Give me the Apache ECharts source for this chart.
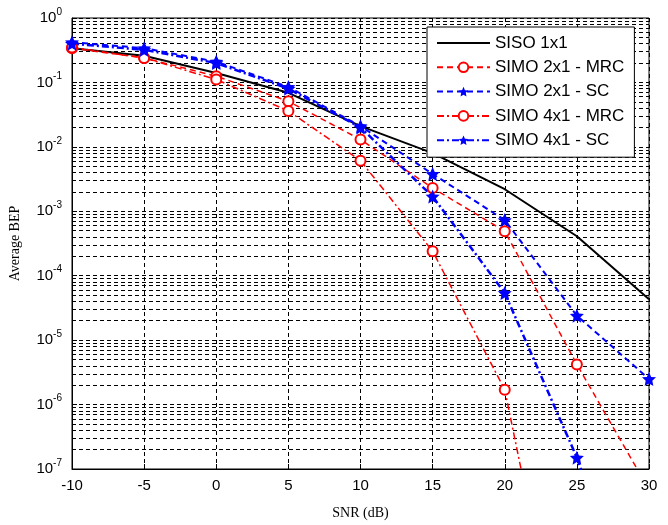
<!DOCTYPE html>
<html>
<head>
<meta charset="utf-8">
<script src="https://cdn.jsdelivr.net/npm/echarts@6/dist/echarts.min.js"></script>
<style>
  html, body { margin: 0; padding: 0; background: #fff; }
  #chart { width: 668px; height: 525px; }
</style>
</head>
<body>
<div id="chart"></div>
<script>
// SNR points (dB)
const snr = [-10, -5, 0, 5, 10, 15, 20, 25, 30]

// average BEP
const siso1x1 = [0.34, 0.26, 0.14, 0.069, 0.021, 8.0e-3, 2.2e-3, 4.1e-4, 4.3e-5]
const simo2x1Mrc = [0.34, 0.24, 0.125, 0.051, 0.013, 2.3e-3, 4.9e-4, 4.2e-6, 4.8e-8]
const simo2x1Sc = [0.42, 0.34, 0.21, 0.085, 0.021, 3.8e-3, 7.3e-4, 2.4e-5, 2.5e-6]
const simo4x1Mrc = [0.35, 0.24, 0.111, 0.036, 6.1e-3, 2.4e-4, 1.7e-6, 6e-12, 1e-15]
const simo4x1Sc = [0.40, 0.32, 0.20, 0.080, 0.020, 1.7e-3, 5.4e-5, 1.5e-7, 1e-10]

const seriesNames = ['SISO 1x1', 'SIMO 2x1 - MRC', 'SIMO 2x1 - SC', 'SIMO 4x1 - MRC', 'SIMO 4x1 - SC']

// minor log gridlines 2..9 x 10^k
const minorGrid = []
for (let k = -7; k < 0; k++) {
  for (let m = 2; m <= 9; m++) minorGrid.push({ yAxis: m * Math.pow(10, k) })
}

const pairs = arr => snr.map((x, i) => [x, arr[i]])

const star = 'path://M0,-10L2.9,-3.6L9.5,-3.1L4.5,1.4L5.9,8.1L0,4.8L-5.9,8.1L-4.5,1.4L-9.5,-3.1L-2.9,-3.6Z'
const dashed = [6, 4]
const dashDot = [7, 3, 2, 3]
const gridDash = [4, 3]

const chart = echarts.init(document.getElementById('chart'))

const option = {
  animation: false,
  grid: {
    left: 72, right: 19, top: 18, bottom: 53,
    show: true, borderColor: '#000', borderWidth: 1
  },
  legend: {
    orient: 'vertical',
    left: 427, top: 27,
    z: 10,
    padding: [6, 10, 7, 9],
    itemGap: 4.3,
    itemWidth: 53, itemHeight: 12,
    backgroundColor: '#fff',
    borderColor: '#000', borderWidth: 1,
    data: [
      { name: seriesNames[0], itemStyle: { opacity: 0 } },
      seriesNames[1], seriesNames[2], seriesNames[3], seriesNames[4]
    ],
    textStyle: { fontFamily: 'Liberation Sans', fontSize: 17, color: '#000', lineHeight: 20 }
  },
  xAxis: [{
    type: 'value',
    min: -10, max: 30, interval: 5,
    name: 'SNR (dB)',
    nameLocation: 'middle', nameGap: 37,
    nameTextStyle: { fontFamily: 'Liberation Serif', fontSize: 14, color: '#000' },
    axisLine: { onZero: false, lineStyle: { color: '#000' } },
    axisTick: { inside: true, length: 5, lineStyle: { color: '#000' } },
    axisLabel: { margin: 9, fontFamily: 'Liberation Sans', fontSize: 15, color: '#000' },
    splitLine: { show: true, lineStyle: { color: '#000', type: gridDash } }
  }],
  yAxis: [{
    type: 'log', logBase: 10,
    min: 1e-7, max: 1, interval: 1,
    name: 'Average BEP',
    nameLocation: 'middle', nameGap: 50,
    nameTextStyle: { fontFamily: 'Liberation Serif', fontSize: 14, color: '#000' },
    axisLine: { show: true, onZero: false, lineStyle: { color: '#000' } },
    axisTick: { inside: true, length: 5, lineStyle: { color: '#000' } },
    axisLabel: {
      margin: 10,
      formatter: v => '{b|10}{s|' + Math.round(Math.log10(v)) + '}',
      rich: {
        b: { fontFamily: 'Liberation Sans', fontSize: 15, color: '#000', lineHeight: 22 },
        s: { fontFamily: 'Liberation Sans', fontSize: 10, color: '#000', verticalAlign: 'top', lineHeight: 12 }
      }
    },
    splitLine: { show: true, lineStyle: { color: '#000', type: gridDash } }
  }],
  series: [
    {
      name: 'minor grid',
      type: 'line',
      data: [],
      z: 1,
      markLine: {
        silent: true,
        z: 1,
        precision: 12,
        symbol: ['none', 'none'],
        label: { show: false },
        emphasis: { disabled: true },
        lineStyle: { color: '#000', type: gridDash, width: 1 },
        data: minorGrid
      }
    },
    {
      name: seriesNames[0], type: 'line', z: 3,
      data: pairs(siso1x1),
      symbol: 'none',
      color: '#000',
      lineStyle: { color: '#000', width: 2 }
    },
    {
      name: seriesNames[1], type: 'line', z: 4,
      data: pairs(simo2x1Mrc),
      symbol: 'emptyCircle', symbolSize: 10,
      color: '#ff0000',
      itemStyle: { color: '#ff0000', borderWidth: 2 },
      lineStyle: { color: '#ff0000', width: 1.5, type: dashed }
    },
    {
      name: seriesNames[2], type: 'line', z: 4,
      data: pairs(simo2x1Sc),
      symbol: star, symbolSize: 14,
      color: '#0000ff',
      itemStyle: { color: '#0000ff' },
      lineStyle: { color: '#0000ff', width: 2, type: dashed }
    },
    {
      name: seriesNames[3], type: 'line', z: 4,
      data: pairs(simo4x1Mrc),
      symbol: 'emptyCircle', symbolSize: 10,
      color: '#ff0000',
      itemStyle: { color: '#ff0000', borderWidth: 2 },
      lineStyle: { color: '#ff0000', width: 1.5, type: dashDot }
    },
    {
      name: seriesNames[4], type: 'line', z: 4,
      data: pairs(simo4x1Sc),
      symbol: star, symbolSize: 14,
      color: '#0000ff',
      itemStyle: { color: '#0000ff' },
      lineStyle: { color: '#0000ff', width: 2.5, type: dashDot }
    }
  ]
}

chart.setOption(option)
window.addEventListener('resize', () => chart.resize())
</script>
</body>
</html>
